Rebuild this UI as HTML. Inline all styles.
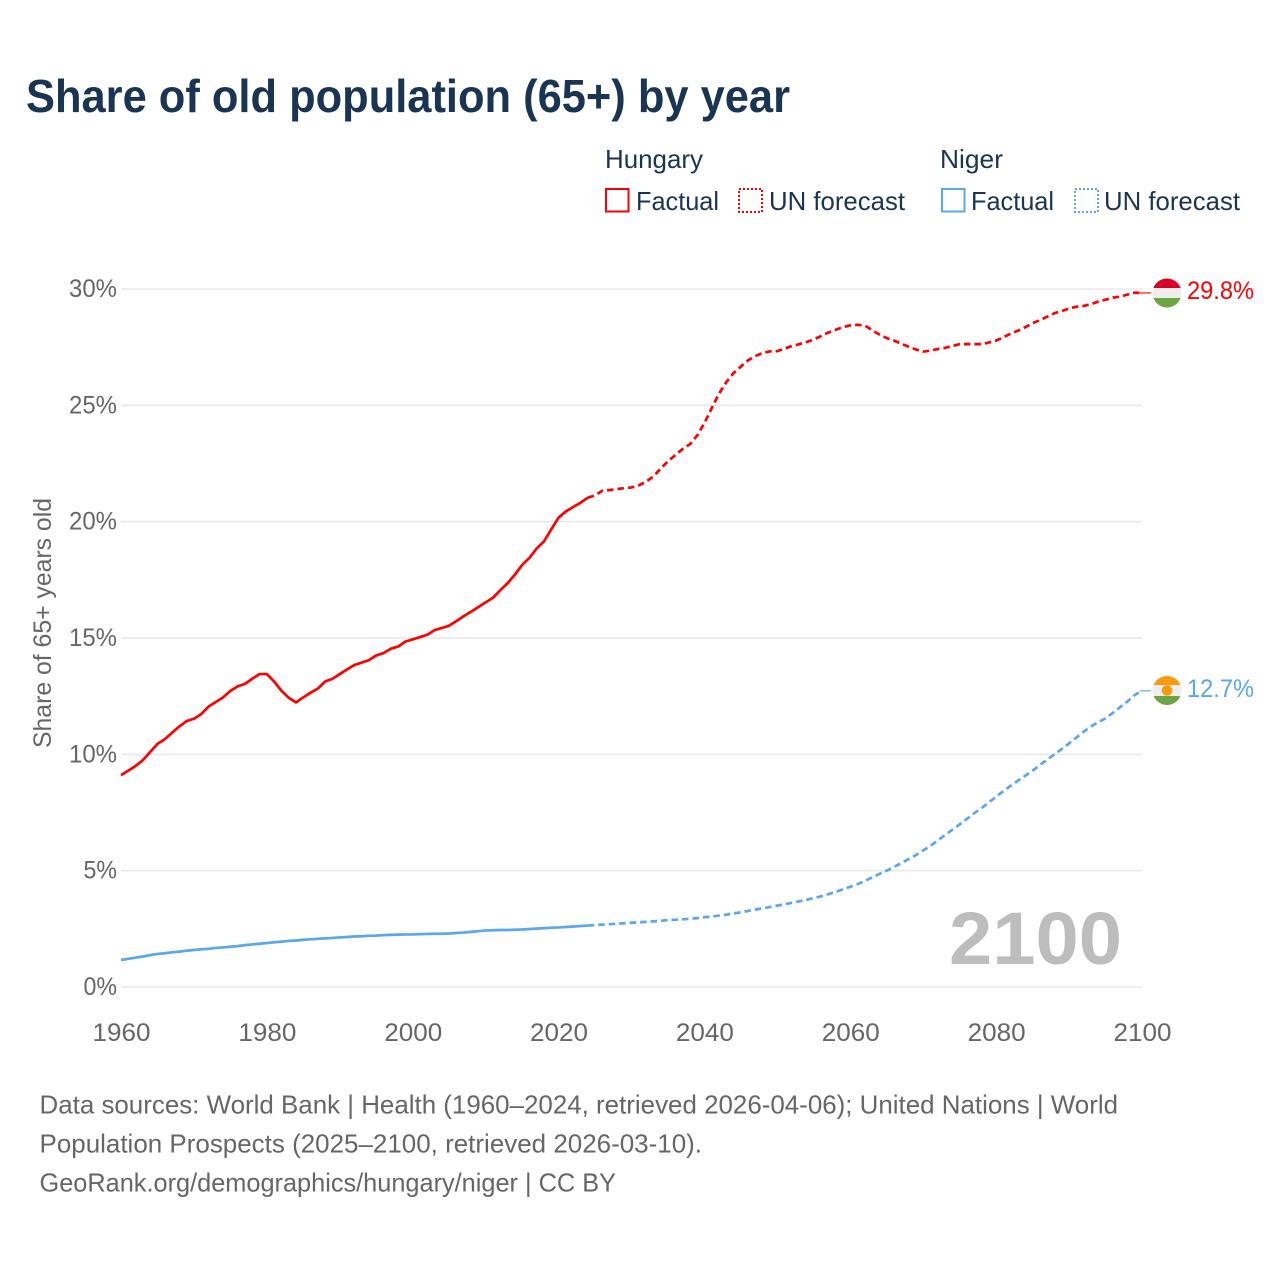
<!DOCTYPE html>
<html lang="en">
<head>
<meta charset="utf-8">
<title>Share of old population (65+) by year</title>
<style>
html,body{margin:0;padding:0;background:#fff;}
svg{display:block;}
text{font-family:"Liberation Sans",sans-serif;}
</style>
</head>
<body>
<svg id="chart" xmlns="http://www.w3.org/2000/svg" width="1280" height="1280" viewBox="0 0 1280 1280">
  <rect x="0" y="0" width="1280" height="1280" fill="#ffffff"/>
  <text x="26" y="112" font-size="46" font-weight="700" fill="#1a3554" textLength="764" lengthAdjust="spacingAndGlyphs">Share of old population (65+) by year</text>

  <g font-size="26" fill="#1a3554">
    <text x="605" y="168" textLength="98" lengthAdjust="spacingAndGlyphs">Hungary</text>
    <text x="940" y="168" textLength="63" lengthAdjust="spacingAndGlyphs">Niger</text>
    <rect x="606" y="189" width="22.5" height="22.5" fill="none" stroke="#ff0000" stroke-width="2"/>
    <text x="636" y="210" textLength="83" lengthAdjust="spacingAndGlyphs">Factual</text>
    <rect x="739" y="189" width="23" height="23" fill="none" stroke="#ff0000" stroke-width="2" stroke-dasharray="2 2"/>
    <text x="769" y="210" textLength="136" lengthAdjust="spacingAndGlyphs">UN forecast</text>
    <rect x="942" y="189" width="22.5" height="22.5" fill="none" stroke="#5ba6ec" stroke-width="2"/>
    <text x="971" y="210" textLength="83" lengthAdjust="spacingAndGlyphs">Factual</text>
    <rect x="1075" y="189" width="23" height="23" fill="none" stroke="#5ba6ec" stroke-width="2" stroke-dasharray="2 2"/>
    <text x="1104" y="210" textLength="136" lengthAdjust="spacingAndGlyphs">UN forecast</text>
  </g>

  <g id="grid"></g>
  <g id="yticks" font-size="25" fill="#666666"></g>
  <g id="xticks" font-size="25" fill="#666666"></g>

  <text transform="translate(51,748) rotate(-90)" font-size="25" fill="#666666" textLength="250" lengthAdjust="spacingAndGlyphs">Share of 65+ years old</text>
  <text x="1122" y="964" text-anchor="end" font-size="74" font-weight="700" fill="#bdbdbd" textLength="173" lengthAdjust="spacingAndGlyphs">2100</text>

  <g id="series"></g>

  <g>
    <clipPath id="clipHu"><circle cx="1167" cy="293" r="14.5"/></clipPath>
    <g clip-path="url(#clipHu)">
      <rect x="1152" y="278" width="30" height="10" fill="#d80027"/>
      <rect x="1152" y="288" width="30" height="10" fill="#eeeeee"/>
      <rect x="1152" y="298" width="30" height="10" fill="#6da544"/>
    </g>
  </g>
  <g>
    <clipPath id="clipNe"><circle cx="1167" cy="690.5" r="14.5"/></clipPath>
    <g clip-path="url(#clipNe)">
      <rect x="1152" y="675" width="30" height="10" fill="#ff9811"/>
      <rect x="1152" y="685" width="30" height="11" fill="#eeeeee"/>
      <rect x="1152" y="696" width="30" height="10" fill="#6da544"/>
      <circle cx="1167" cy="690.5" r="5.3" fill="#ff9811"/>
    </g>
  </g>
  <text id="labelHu" x="1187" y="299" font-size="25" fill="#ff0000" textLength="67" lengthAdjust="spacingAndGlyphs">29.8%</text>
  <text id="labelNe" x="1187" y="697" font-size="25" fill="#5ba6ec" textLength="67" lengthAdjust="spacingAndGlyphs">12.7%</text>

  <g font-size="26" fill="#666666">
    <text x="39.5" y="1113.5" textLength="1078.5" lengthAdjust="spacingAndGlyphs">Data sources: World Bank | Health (1960–2024, retrieved 2026-04-06); United Nations | World</text>
    <text x="39.5" y="1152.5" textLength="662.5" lengthAdjust="spacingAndGlyphs">Population Prospects (2025–2100, retrieved 2026-03-10).</text>
    <text x="39.5" y="1191.5" textLength="576.5" lengthAdjust="spacingAndGlyphs">GeoRank.org/demographics/hungary/niger | CC BY</text>
  </g>
</svg>
<script>
const xTickYears = [1960, 1980, 2000, 2020, 2040, 2060, 2080, 2100];
const yTickValues = [0, 5, 10, 15, 20, 25, 30];
const factualStartYear = 1960;
const forecastStartYear = 2024;

const hungaryFactual = [
  9.10, 9.30, 9.50, 9.75, 10.10, 10.45, 10.65, 10.93, 11.20, 11.43,
  11.53, 11.73, 12.05, 12.25, 12.45, 12.73, 12.92, 13.03, 13.25, 13.45,
  13.45, 13.13, 12.73, 12.43, 12.23, 12.45, 12.65, 12.83, 13.13, 13.25,
  13.45, 13.65, 13.84, 13.94, 14.05, 14.25, 14.35, 14.54, 14.63, 14.85,
  14.94, 15.04, 15.14, 15.34, 15.43, 15.53, 15.73, 15.94, 16.13, 16.33,
  16.53, 16.73, 17.05, 17.35, 17.72, 18.14, 18.44, 18.85, 19.15, 19.67,
  20.17, 20.44, 20.63, 20.81, 21.03
];
const hungaryForecast = [
  21.03, 21.13, 21.33, 21.36, 21.40, 21.44, 21.47, 21.56, 21.72, 21.94,
  22.28, 22.60, 22.86, 23.12, 23.33, 23.70, 24.24, 24.88, 25.50, 26.00,
  26.39, 26.67, 26.94, 27.12, 27.25, 27.32, 27.33, 27.44, 27.55, 27.63,
  27.72, 27.83, 27.98, 28.13, 28.25, 28.36, 28.44, 28.46, 28.43, 28.23,
  28.04, 27.89, 27.78, 27.65, 27.52, 27.40, 27.31, 27.35, 27.42, 27.47,
  27.55, 27.63, 27.63, 27.63, 27.63, 27.70, 27.78, 27.93, 28.08, 28.21,
  28.36, 28.53, 28.66, 28.81, 28.96, 29.05, 29.16, 29.24, 29.27, 29.35,
  29.46, 29.54, 29.63, 29.67, 29.76, 29.84, 29.83
];
const nigerFactual = [
  1.16, 1.21, 1.26, 1.31, 1.37, 1.42, 1.45, 1.49, 1.52, 1.56,
  1.59, 1.62, 1.64, 1.68, 1.70, 1.73, 1.76, 1.80, 1.83, 1.86,
  1.89, 1.92, 1.95, 1.98, 2.00, 2.03, 2.05, 2.07, 2.09, 2.11,
  2.13, 2.15, 2.17, 2.18, 2.20, 2.21, 2.23, 2.24, 2.25, 2.26,
  2.26, 2.27, 2.28, 2.29, 2.29, 2.30, 2.32, 2.34, 2.37, 2.40,
  2.43, 2.44, 2.45, 2.45, 2.46, 2.47, 2.49, 2.51, 2.53, 2.55,
  2.56, 2.58, 2.60, 2.62, 2.64
];
const nigerForecast = [
  2.64, 2.66, 2.68, 2.70, 2.72, 2.74, 2.76, 2.78, 2.80, 2.82,
  2.84, 2.88, 2.89, 2.91, 2.93, 2.96, 3.00, 3.03, 3.07, 3.11,
  3.16, 3.21, 3.27, 3.33, 3.38, 3.44, 3.50, 3.56, 3.62, 3.68,
  3.75, 3.82, 3.90, 3.99, 4.09, 4.20, 4.31, 4.42, 4.56, 4.71,
  4.86, 5.00, 5.16, 5.33, 5.50, 5.67, 5.87, 6.07, 6.30, 6.53,
  6.76, 6.99, 7.23, 7.47, 7.69, 7.93, 8.18, 8.42, 8.65, 8.87,
  9.08, 9.30, 9.54, 9.78, 10.00, 10.23, 10.47, 10.72, 10.97, 11.20,
  11.38, 11.55, 11.78, 12.03, 12.27, 12.55, 12.73
];

const SVG_NS = 'http://www.w3.org/2000/svg';
function xScale(year) { return 121 + (year - 1960) * (1142 - 121) / 140; }
function yScale(value) { return 987 - value * (987 - 289) / 30; }
function pathFrom(values, startYear) {
  return values.map(function (v, i) {
    return (i ? 'L' : 'M') + xScale(startYear + i).toFixed(2) + ' ' + yScale(v).toFixed(2);
  }).join(' ');
}
function make(tag) { return document.createElementNS(SVG_NS, tag); }

const gridGroup = document.getElementById('grid');
const yGroup = document.getElementById('yticks');
const xGroup = document.getElementById('xticks');
const seriesGroup = document.getElementById('series');

yTickValues.forEach(function (v) {
  const line = make('line');
  
  
  line.setAttribute('x1', xScale(1960));
  line.setAttribute('x2', xScale(2100));
  line.setAttribute('y1', yScale(v));
  line.setAttribute('y2', yScale(v));
  line.setAttribute('stroke', '#e8e8e8');
  line.setAttribute('stroke-width', '1.5');
  gridGroup.appendChild(line);

  const label = make('text');
  
  
  const txt = v + '%';
  label.setAttribute('x', 117 - (String(v).length * 14.5 + 19));
  label.setAttribute('y', yScale(v) + 8);
  label.setAttribute('textLength', String(v).length * 14.5 + 19);
  label.setAttribute('lengthAdjust', 'spacingAndGlyphs');
  label.textContent = txt;
  yGroup.appendChild(label);
});

xTickYears.forEach(function (yr) {
  const label = make('text');
  
  
  label.setAttribute('x', xScale(yr) - 28.5);
  label.setAttribute('y', 1041);
  label.setAttribute('textLength', 58);
  label.setAttribute('lengthAdjust', 'spacingAndGlyphs');
  label.textContent = String(yr);
  xGroup.appendChild(label);
});

function addLine(values, startYear, color, dashed, name) {
  const p = make('path');
  
  
  p.setAttribute('d', pathFrom(values, startYear));
  p.setAttribute('fill', 'none');
  p.setAttribute('stroke', color);
  p.setAttribute('stroke-width', '2.7');
  p.setAttribute('stroke-linejoin', 'round');
  if (dashed) { p.setAttribute('stroke-dasharray', '6.5 4'); }
  seriesGroup.appendChild(p);
}
function addConnector(values, color, name) {
  const last = values[values.length - 1];
  const c = make('line');
  
  
  c.setAttribute('x1', xScale(2100) - 2);
  c.setAttribute('x2', xScale(2100) + 9);
  c.setAttribute('y1', yScale(last));
  c.setAttribute('y2', yScale(last));
  c.setAttribute('stroke', color);
  c.setAttribute('stroke-width', '1.5');
  c.setAttribute('stroke-opacity', '0.75');
  seriesGroup.appendChild(c);
}
addLine(hungaryFactual, factualStartYear, '#ff0000', false, 'hungary-factual-line');
addLine(hungaryForecast, forecastStartYear, '#ff0000', true, 'hungary-forecast-line');
addLine(nigerFactual, factualStartYear, '#5ba6ec', false, 'niger-factual-line');
addLine(nigerForecast, forecastStartYear, '#5ba6ec', true, 'niger-forecast-line');
addConnector(hungaryForecast, '#ff0000', 'hungary-end-connector');
addConnector(nigerForecast, '#5ba6ec', 'niger-end-connector');
</script>
</body>
</html>
